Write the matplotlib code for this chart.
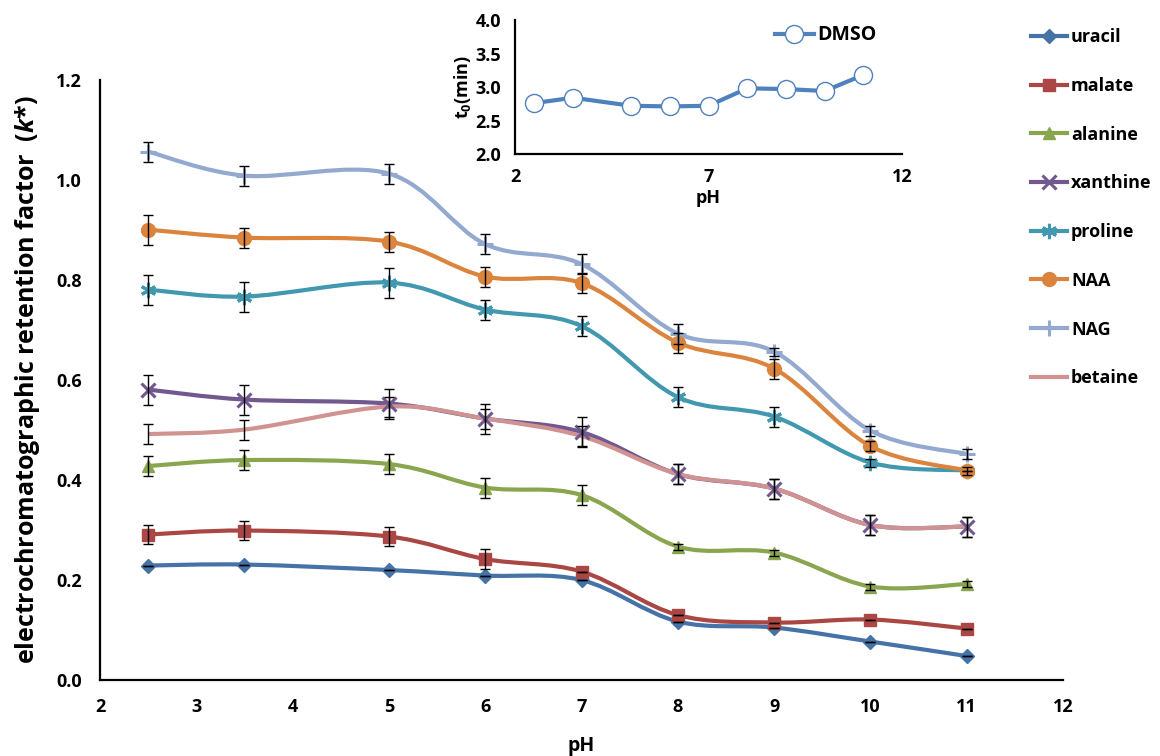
import matplotlib
matplotlib.use('Agg')
import matplotlib.pyplot as plt
from matplotlib.path import Path
from matplotlib.patches import PathPatch
from matplotlib.lines import Line2D
import numpy as np

plt.rcParams['font.family'] = ['Open Sans', 'DejaVu Sans']
plt.rcParams['font.weight'] = 'bold'
plt.rcParams['mathtext.fontset'] = 'custom'
plt.rcParams['mathtext.it'] = 'Open Sans:italic:bold'
plt.rcParams['mathtext.rm'] = 'Open Sans:bold'

# data
ph = [2.5, 3.5, 5, 6, 7, 8, 9, 10, 11]

uracil = [0.229, 0.231, 0.220, 0.209, 0.200, 0.117, 0.105, 0.077, 0.048]
malate = [0.291, 0.299, 0.287, 0.242, 0.217, 0.130, 0.115, 0.121, 0.103]
alanine = [0.428, 0.440, 0.432, 0.385, 0.370, 0.267, 0.255, 0.187, 0.192]
xanthine = [0.581, 0.561, 0.553, 0.523, 0.496, 0.412, 0.383, 0.310, 0.307]
proline = [0.781, 0.767, 0.795, 0.741, 0.708, 0.566, 0.527, 0.435, 0.419]
naa = [0.901, 0.885, 0.877, 0.807, 0.794, 0.675, 0.623, 0.468, 0.419]
nag = [1.057, 1.009, 1.013, 0.872, 0.832, 0.693, 0.657, 0.499, 0.452]
betaine = [0.492, 0.501, 0.547, 0.523, 0.488, 0.412, 0.383, 0.310, 0.307]

err_uracil = [0, 0, 0, 0, 0, 0, 0, 0, 0]
err_malate = [0.019, 0.019, 0.019, 0.02, 0, 0, 0, 0, 0]
err_alanine = [0.02, 0.02, 0.02, 0.02, 0.02, 0.006, 0.006, 0.006, 0.006]
err_xanthine = [0.03, 0.03, 0.03, 0.03, 0.03, 0.02, 0.02, 0.02, 0.02]
err_proline = [0.03, 0.03, 0.03, 0.02, 0.02, 0.02, 0.02, 0.008, 0.008]
err_naa = [0.03, 0.02, 0.02, 0.02, 0.02, 0.02, 0.02, 0.01, 0.0]
err_nag = [0.02, 0.02, 0.02, 0.02, 0.02, 0.02, 0.008, 0.01, 0.01]
err_betaine = [0.02, 0.02, 0.02, 0.02, 0.02, 0.02, 0.02, 0.02, 0.02]

dmso_ph = [2.5, 3.5, 5, 6, 7, 8, 9, 10, 11]
dmso_t0 = [2.76, 2.84, 2.72, 2.71, 2.72, 2.98, 2.97, 2.94, 3.18]

names = ['uracil', 'malate', 'alanine', 'xanthine', 'proline', 'NAA', 'NAG', 'betaine']
values = [uracil, malate, alanine, xanthine, proline, naa, nag, betaine]
errors = [err_uracil, err_malate, err_alanine, err_xanthine, err_proline, err_naa, err_nag, err_betaine]
colors = ['#4572A7', '#AA4643', '#89A54E', '#71588F', '#4198AF', '#DB843D', '#93A9CF', '#D19392']
markers = ['D', 's', '^', 'x', (6, 2, 0), 'o', '+', None]
msizes = [7, 9, 9, 10, 11, 10, 12, 0]


def smooth_path(x, y):
    # excel-style smoothed line (catmull-rom as cubic bezier)
    p = np.column_stack([x, y]).astype(float)
    n = len(p)
    verts = [p[0]]
    codes = [Path.MOVETO]
    for i in range(n - 1):
        p0 = p[i - 1] if i > 0 else p[i]
        p3 = p[i + 2] if i + 2 < n else p[i + 1]
        c1 = p[i] + (p[i + 1] - p0) / 6
        c2 = p[i + 1] - (p3 - p[i]) / 6
        verts += [c1, c2, p[i + 1]]
        codes += [Path.CURVE4] * 3
    return Path(verts, codes)


fig = plt.figure(figsize=(11.6, 7.56), dpi=100)
ax = fig.add_axes([0.0862, 0.1005, 0.8302, 0.7935])

handles = []
for name, v, e, c, m, ms in zip(names, values, errors, colors, markers, msizes):
    mw = 2.2 if m in ('x', '+') or isinstance(m, tuple) else 1
    ax.add_patch(PathPatch(smooth_path(ph, v), facecolor='none', edgecolor=c, lw=3, zorder=2))
    if m is not None:
        ax.plot(ph, v, ls='none', marker=m, ms=ms, color=c, mec=c, mew=mw, zorder=3)
    ax.errorbar(ph, v, yerr=e, fmt='none', ecolor='black', elinewidth=1, capsize=3.5, capthick=1, zorder=4)
    handles.append(Line2D([], [], color=c, lw=3, marker=m, ms=ms, mew=mw))

ax.set_xlim(2, 12)
ax.set_ylim(0, 1.2)
ax.set_xticks(range(2, 13))
ax.set_yticks(np.arange(0, 1.21, 0.2))
ax.set_yticklabels(['%.1f' % t for t in np.arange(0, 1.21, 0.2)])
ax.tick_params(length=0, labelsize=13, pad=13)
for s in ['top', 'right']:
    ax.spines[s].set_visible(False)
for s in ['left', 'bottom']:
    ax.spines[s].set_linewidth(1.6)
ax.set_xlabel('pH', fontsize=14, fontweight='bold', labelpad=14)
ax.set_ylabel(r'electrochromatographic retention factor  ($k$*)', fontsize=18, fontweight='bold', labelpad=10)

fig.legend(handles, names, loc='upper left', bbox_to_anchor=(0.875, 0.984), frameon=False,
           fontsize=13, handlelength=2.0, handletextpad=0.2, labelspacing=1.7)

# inset for DMSO t0
ins = fig.add_axes([0.444, 0.7963, 0.3336, 0.1772])
ins.plot(dmso_ph, dmso_t0, color='#4F81BD', lw=3, marker='o', ms=13, mfc='white', mec='#4F81BD', mew=1, label='DMSO')
ins.set_xlim(2, 12)
ins.set_ylim(2.0, 4.0)
ins.set_xticks([2, 7, 12])
ins.set_yticks([2.0, 2.5, 3.0, 3.5, 4.0])
ins.set_yticklabels(['2.0', '2.5', '3.0', '3.5', '4.0'])
ins.tick_params(length=0, labelsize=13, pad=10)
for s in ['top', 'right']:
    ins.spines[s].set_visible(False)
for s in ['left', 'bottom']:
    ins.spines[s].set_linewidth(1.6)
ins.set_xlabel('pH', fontsize=13, fontweight='bold', labelpad=2)
ins.set_ylabel(r't$_0$(min)', fontsize=13, fontweight='bold', labelpad=2)
ins.legend(loc='upper right', bbox_to_anchor=(0.98, 1.09), frameon=False, fontsize=14,
           handlelength=2.0, handletextpad=0.2)

fig.savefig('out.png', dpi=100)
